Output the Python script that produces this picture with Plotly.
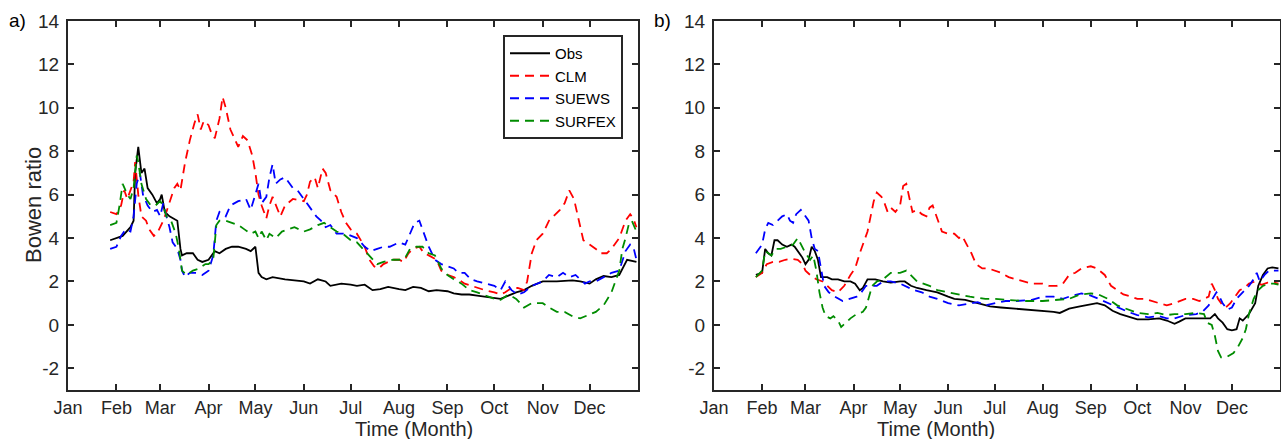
import plotly.graph_objects as go

YEAR = "2013"
month_labels = ["Jan", "Feb", "Mar", "Apr", "May", "Jun", "Jul", "Aug", "Sep", "Oct", "Nov", "Dec"]
month_ticks = [f"{YEAR}-{m:02d}-01" for m in range(1, 13)]
y_ticks = [-2, 0, 2, 4, 6, 8, 10, 12, 14]
y_tick_labels = ["-2", "0", "2", "4", "6", "8", "10", "12", "14"]

# ---------------- panel a ----------------
a_obs_d = ["01-28","02-01","02-05","02-10","02-12","02-13","02-15","02-17","02-19","02-21","02-24","02-27",
           "03-01","03-02","03-04","03-07","03-10","03-12","03-14","03-15","03-18","03-22","03-25","03-28",
           "04-01","04-05","04-08","04-12","04-16","04-20","04-25","04-28","05-01","05-03","05-05","05-08",
           "05-12","05-20","06-01","06-05","06-10","06-15","06-18","06-25","07-01","07-05","07-10","07-15",
           "07-20","07-25","08-01","08-05","08-10","08-15","08-20","08-25","09-01","09-05","09-10","09-15",
           "09-20","10-01","10-05","10-10","10-15","10-20","10-25","11-01","11-10","11-20","11-25","12-01",
           "12-05","12-10","12-15","12-20","12-25","12-31"]
a_obs_v = [3.9,4.0,4.1,4.5,4.8,7.0,8.2,7.0,7.2,6.3,6.0,5.6,
           5.8,6.0,5.2,5.0,4.9,4.8,3.5,3.2,3.3,3.3,3.0,2.9,
           3.0,3.4,3.3,3.5,3.6,3.6,3.5,3.4,3.6,2.4,2.2,2.1,
           2.2,2.1,2.0,1.9,2.1,2.0,1.8,1.9,1.85,1.8,1.85,1.6,
           1.65,1.75,1.65,1.6,1.75,1.7,1.55,1.6,1.55,1.45,1.4,1.4,
           1.35,1.25,1.2,1.35,1.5,1.6,1.8,2.0,2.0,2.05,2.0,1.9,
           2.1,2.25,2.2,2.3,3.0,2.9]

a_clm_d = ["01-28","02-01","02-04","02-06","02-08","02-10","02-12","02-13","02-15","02-17","02-20","02-22",
           "02-25","02-27","03-01","03-03","03-05","03-08","03-10","03-12","03-14","03-17","03-20","03-23",
           "03-25","03-27","03-29","04-01","04-03","04-05","04-08","04-10","04-12","04-15","04-18","04-20",
           "04-23","04-26","04-29","05-01","05-03","05-05","05-08","05-10","05-12","05-14","05-17","05-20",
           "05-25","06-01","06-03","06-05","06-08","06-10","06-13","06-15","06-18","06-22","06-25","06-28",
           "07-01","07-05","07-10","07-13","07-16","07-19","07-22","07-25","07-28","08-01","08-04","08-07",
           "08-10","08-14","08-17","08-20","08-25","08-28","09-01","09-05","09-08","09-12","09-16","09-20",
           "09-25","10-01","10-05","10-08","10-12","10-16","10-20","10-22","10-25","10-28","11-01","11-05",
           "11-08","11-12","11-15","11-18","11-21","11-24","11-27","12-01","12-05","12-08","12-12","12-15",
           "12-20","12-24","12-27","12-29","12-31"]
a_clm_v = [5.2,5.1,5.5,6.2,5.8,6.2,6.6,7.5,6.0,5.0,4.8,4.4,
           4.1,4.2,4.5,4.8,5.2,5.8,6.3,6.5,6.2,7.5,8.5,9.3,
           9.7,9.0,9.4,9.2,8.8,8.6,9.5,10.5,10.0,9.0,8.5,8.2,
           8.7,8.5,7.8,7.0,6.0,5.5,4.9,5.5,5.9,5.5,5.0,5.5,
           5.8,5.7,6.0,6.6,6.8,6.3,7.2,7.0,6.2,5.9,5.2,4.7,
           4.4,4.2,3.6,3.0,2.7,2.6,2.8,2.9,3.0,3.0,2.9,3.3,
           3.5,3.6,3.3,3.2,3.0,2.5,2.3,2.2,2.1,1.9,1.8,1.7,
           1.6,1.5,1.4,1.5,1.7,1.7,1.6,2.0,3.3,3.9,4.2,4.8,
           5.0,5.3,5.6,6.2,5.8,4.8,3.9,3.7,3.5,3.3,3.3,3.5,
           4.0,4.8,5.1,4.9,4.5]

a_suews_d = ["01-28","02-01","02-04","02-07","02-10","02-12","02-14","02-16","02-18","02-21","02-24","02-27",
             "03-01","03-03","03-05","03-07","03-09","03-12","03-14","03-15","03-17","03-20","03-24","03-28",
             "04-01","04-04","04-06","04-08","04-12","04-15","04-20","04-25","04-28","05-01","05-03","05-05",
             "05-08","05-10","05-12","05-14","05-17","05-20","05-25","05-28","06-01","06-03","06-06","06-09",
             "06-12","06-15","06-18","06-22","06-28","07-01","07-05","07-10","07-14","07-18","07-22","07-26",
             "08-01","08-05","08-08","08-11","08-14","08-17","08-20","08-24","08-28","09-01","09-05","09-08",
             "09-12","09-16","09-20","10-01","10-05","10-08","10-12","10-16","10-20","10-25","11-01","11-05",
             "11-10","11-14","11-18","11-22","11-28","12-01","12-05","12-10","12-15","12-20","12-24","12-27",
             "12-29","12-31"]
a_suews_v = [3.5,3.6,4.1,4.4,4.3,5.0,6.5,7.0,6.0,5.5,5.2,5.3,
             5.0,5.6,5.0,4.5,3.8,3.5,3.0,2.5,2.2,2.4,2.4,2.3,
             2.5,3.2,4.8,5.2,5.0,5.5,5.7,5.8,5.3,6.0,6.5,5.6,
             5.9,6.8,7.4,6.5,6.7,6.8,6.3,6.2,5.8,5.6,5.3,5.0,
             4.8,4.5,4.6,4.2,4.2,4.1,4.0,3.6,3.4,3.5,3.6,3.6,
             3.8,3.7,4.2,4.7,4.8,4.2,3.6,3.0,2.8,2.7,2.6,2.4,
             2.4,2.1,2.0,1.8,1.6,2.0,1.6,1.4,1.5,1.8,2.0,2.3,
             2.2,2.4,2.2,2.3,1.9,2.0,2.0,2.2,2.4,2.5,3.4,3.7,
             3.6,3.0]

a_surfex_d = ["01-28","02-01","02-03","02-05","02-08","02-10","02-12","02-14","02-15","02-17","02-20","02-23",
              "02-26","03-01","03-03","03-05","03-08","03-11","03-13","03-15","03-18","03-22","03-26","03-30",
              "04-01","04-04","04-06","04-08","04-12","04-16","04-20","04-24","04-28","05-01","05-03","05-05",
              "05-08","05-10","05-14","05-18","05-22","05-26","06-01","06-05","06-10","06-14","06-18","06-22",
              "06-26","07-01","07-05","07-10","07-15","07-18","07-22","07-28","08-01","08-05","08-08","08-12",
              "08-16","08-20","08-24","08-28","09-01","09-05","09-10","09-15","09-20","10-01","10-05","10-10",
              "10-15","10-20","10-25","11-01","11-05","11-10","11-15","11-20","11-25","12-01","12-05","12-10",
              "12-15","12-20","12-22","12-24","12-26","12-28","12-31"]
a_surfex_v = [4.6,4.7,5.5,6.5,6.0,5.8,6.3,7.8,7.5,6.5,5.8,5.5,
              5.5,5.7,5.5,5.0,4.8,4.2,3.5,2.5,2.3,2.5,2.6,2.8,
              2.8,3.0,4.6,4.8,4.8,4.7,4.6,4.4,4.2,4.3,4.0,4.3,
              3.9,4.2,4.0,4.3,4.4,4.5,4.3,4.4,4.6,4.7,4.5,4.3,
              4.2,3.9,3.8,3.4,3.0,2.8,2.9,3.0,3.0,3.1,3.5,3.6,
              3.6,3.3,3.2,2.6,2.3,2.1,1.9,1.6,1.5,1.2,1.15,1.4,
              1.2,0.8,1.0,1.0,0.8,0.6,0.6,0.4,0.3,0.5,0.6,0.9,
              1.5,2.5,3.5,4.0,4.6,4.8,4.3]

# ---------------- panel b ----------------
b_obs_d = ["01-28","02-01","02-03","02-05","02-07","02-09","02-11","02-14","02-17","02-20","02-22","02-25",
           "02-27","03-01","03-03","03-05","03-07","03-09","03-11","03-15","03-18","03-22","03-26","03-30",
           "04-02","04-05","04-07","04-10","04-15","04-20","04-25","05-01","05-04","05-08","05-12","05-18",
           "05-25","06-01","06-05","06-12","06-20","06-28","07-05","07-15","07-25","08-01","08-08","08-12",
           "08-18","08-25","09-01","09-05","09-10","09-15","09-20","09-25","10-01","10-08","10-15","10-20",
           "10-25","10-28","11-01","11-10","11-17","11-20","11-22","11-25","11-28","12-01","12-04","12-06",
           "12-08","12-12","12-16","12-18","12-21","12-24","12-27","12-31"]
b_obs_v = [2.3,2.4,3.5,3.3,3.2,3.9,3.9,3.7,3.6,3.7,3.6,3.3,
           3.1,2.8,3.0,3.6,3.4,3.0,2.2,2.2,2.1,2.1,2.0,2.0,
           1.9,1.6,1.7,2.1,2.1,2.0,1.95,2.0,2.0,1.8,1.7,1.6,
           1.5,1.3,1.2,1.15,1.0,0.85,0.8,0.75,0.7,0.65,0.6,0.55,
           0.75,0.85,0.95,1.0,0.9,0.65,0.5,0.4,0.25,0.25,0.3,0.2,
           0.05,0.15,0.3,0.3,0.3,0.5,0.3,0.1,-0.2,-0.25,-0.2,0.3,
           0.2,0.5,1.0,1.8,2.3,2.6,2.65,2.6]

b_clm_d = ["01-28","02-01","02-04","02-08","02-12","02-16","02-20","02-24","02-27","03-01","03-04","03-08",
           "03-12","03-15","03-18","03-22","03-26","03-30","04-02","04-05","04-08","04-10","04-12","04-14",
           "04-16","04-19","04-21","04-23","04-25","04-28","05-01","05-03","05-05","05-07","05-09","05-12",
           "05-15","05-18","05-20","05-22","05-25","05-28","06-01","06-05","06-08","06-10","06-13","06-16",
           "06-19","06-23","06-27","07-01","07-05","07-10","07-15","07-20","07-25","08-01","08-05","08-10",
           "08-14","08-18","08-22","08-26","09-01","09-05","09-10","09-14","09-18","09-22","09-27","10-01",
           "10-06","10-10","10-15","10-20","10-25","11-01","11-06","11-10","11-13","11-16","11-18","11-20",
           "11-22","11-25","11-27","11-30","12-03","12-06","12-09","12-12","12-16","12-20","12-24","12-28",
           "12-31"]
b_clm_v = [2.2,2.4,2.8,2.9,2.9,3.0,3.05,3.0,2.8,2.5,2.3,2.1,
           2.0,1.8,1.6,1.5,1.8,2.3,2.6,3.3,3.9,4.3,5.0,5.7,
           6.1,5.9,5.6,5.2,5.4,5.2,5.5,6.4,6.5,5.8,5.2,5.3,
           5.1,5.0,5.4,5.5,4.9,4.3,4.2,4.2,4.0,4.1,3.7,3.3,
           2.8,2.6,2.6,2.5,2.4,2.2,2.1,2.0,1.9,1.9,1.8,1.8,
           1.9,2.3,2.4,2.6,2.7,2.6,2.3,1.8,1.6,1.4,1.3,1.2,
           1.2,1.1,1.0,0.9,1.0,1.2,1.2,1.1,1.2,1.3,1.9,1.6,
           1.2,0.9,0.8,1.0,1.3,1.6,1.7,1.9,2.0,1.85,1.95,1.95,
           1.9]

b_suews_d = ["01-28","02-01","02-03","02-05","02-08","02-11","02-14","02-17","02-19","02-21","02-23","02-26",
             "03-01","03-03","03-05","03-07","03-09","03-11","03-13","03-16","03-20","03-25","03-30","04-03",
             "04-06","04-09","04-12","04-16","04-20","04-25","05-01","05-05","05-10","05-15","05-20","05-25",
             "06-01","06-08","06-15","06-20","06-25","07-01","07-08","07-15","07-25","08-01","08-08","08-14",
             "08-20","08-26","09-01","09-06","09-12","09-18","09-25","10-01","10-08","10-15","10-20","10-25",
             "11-01","11-08","11-12","11-16","11-19","11-21","11-23","11-25","11-28","12-01","12-04","12-08",
             "12-12","12-15","12-17","12-19","12-22","12-25","12-28","12-31"]
b_suews_v = [3.3,3.7,4.4,4.7,4.6,4.8,5.0,5.1,4.8,4.7,5.1,5.3,
             5.0,4.8,4.0,3.5,3.4,2.5,1.8,1.5,1.3,1.1,1.2,1.3,
             1.5,1.8,1.8,1.8,2.0,2.0,1.9,1.75,1.6,1.5,1.3,1.2,
             1.0,0.9,1.0,1.05,0.9,1.0,1.1,1.1,1.15,1.3,1.3,1.2,
             1.35,1.45,1.35,1.2,1.0,0.8,0.6,0.45,0.35,0.4,0.3,0.3,
             0.45,0.5,0.6,0.9,1.3,1.5,1.3,1.0,0.7,0.8,1.2,1.5,
             1.8,2.1,2.4,2.0,2.3,2.5,2.5,2.5]

b_surfex_d = ["01-28","02-01","02-03","02-05","02-07","02-10","02-13","02-17","02-21","02-24","02-27","03-01",
              "03-04","03-06","03-08","03-10","03-12","03-14","03-17","03-19","03-22","03-24","03-27","03-30",
              "04-03","04-07","04-09","04-11","04-13","04-16","04-20","04-25","05-01","05-05","05-08","05-12",
              "05-16","05-20","05-25","06-01","06-08","06-15","06-25","07-01","07-10","07-20","08-01","08-10",
              "08-18","08-25","09-01","09-06","09-12","09-18","09-25","10-01","10-08","10-14","10-20","10-25",
              "11-01","11-08","11-13","11-15","11-18","11-20","11-22","11-24","11-27","11-30","12-02","12-05",
              "12-08","12-10","12-12","12-15","12-18","12-21","12-25","12-28","12-31"]
b_surfex_v = [2.2,2.5,3.4,3.3,3.2,3.5,3.5,3.6,3.7,4.0,3.6,3.3,
              3.0,3.2,2.5,1.5,0.8,0.4,0.3,0.4,0.2,-0.1,0.1,0.3,
              0.5,0.6,0.8,1.3,1.8,2.0,2.1,2.4,2.4,2.5,2.3,2.0,
              1.9,1.8,1.6,1.5,1.4,1.3,1.2,1.2,1.15,1.1,1.1,1.15,
              1.2,1.4,1.45,1.4,1.2,0.9,0.7,0.55,0.5,0.55,0.45,0.5,
              0.5,0.55,0.5,0.1,0.0,-0.5,-1.2,-1.5,-1.5,-1.4,-1.3,-1.0,
              -0.6,-0.2,0.5,1.2,1.6,1.8,1.9,1.9,1.85]

GREEN = "rgb(0,140,0)"
DASH = "9px,6px"
series = [
    ("Obs", "black", "solid"),
    ("CLM", "#ff0000", DASH),
    ("SUEWS", "#0000ff", DASH),
    ("SURFEX", GREEN, DASH),
]
panel_a = [(a_obs_d, a_obs_v), (a_clm_d, a_clm_v), (a_suews_d, a_suews_v), (a_surfex_d, a_surfex_v)]
panel_b = [(b_obs_d, b_obs_v), (b_clm_d, b_clm_v), (b_suews_d, b_suews_v), (b_surfex_d, b_surfex_v)]

fig = go.Figure()
for (name, color, dash), (d, v) in zip(series, panel_a):
    fig.add_trace(go.Scatter(x=[f"{YEAR}-{s}" for s in d], y=v, mode="lines", name=name,
                             line=dict(color=color, width=1.8, dash=dash), xaxis="x", yaxis="y"))
for (name, color, dash), (d, v) in zip(series, panel_b):
    fig.add_trace(go.Scatter(x=[f"{YEAR}-{s}" for s in d], y=v, mode="lines", name=name, showlegend=False,
                             line=dict(color=color, width=1.8, dash=dash), xaxis="x2", yaxis="y2"))

W, H = 1281, 439
TOP, BOT = 21, 390
PH = BOT - TOP
FONT = "Liberation Sans, Arial, Helvetica, sans-serif"
TXT = "#262626"
xcommon = dict(type="date", range=[f"{YEAR}-01-01", "2014-01-01"], tickvals=month_ticks, ticktext=month_labels,
               ticks="inside", ticklen=6, tickwidth=2, tickcolor="#262626", mirror="ticks", showline=True,
               linecolor="#262626", linewidth=2, showgrid=False, zeroline=False, ticklabelstandoff=0,
               tickfont=dict(size=18, color=TXT, family=FONT))
ycommon = dict(range=[-3, 14], tickvals=y_ticks, ticktext=y_tick_labels, ticks="inside", ticklen=6, tickwidth=2,
               tickcolor="#262626", mirror="ticks", showline=True, linecolor="#262626", linewidth=2,
               showgrid=False, zeroline=False, ticklabelstandoff=3, tickfont=dict(size=19, color=TXT, family=FONT))


def py(page_y):
    return (BOT - page_y) / PH


fig.update_layout(
    width=W, height=H, paper_bgcolor="white", plot_bgcolor="white",
    margin=dict(l=0, r=0, t=TOP, b=H - BOT, autoexpand=False),
    font=dict(family=FONT, color=TXT, size=16),
    xaxis=dict(domain=[68 / W, 638 / W], anchor="y", **xcommon),
    yaxis=dict(domain=[0, 1], anchor="x", **ycommon),
    xaxis2=dict(domain=[714 / W, 1280 / W], anchor="y2", **xcommon),
    yaxis2=dict(domain=[0, 1], anchor="x2", **ycommon),
    showlegend=True,
    legend=dict(x=623 / W, y=py(35), xanchor="right", yanchor="top", bgcolor="white",
                bordercolor="#262626", borderwidth=2, font=dict(size=15, color="black", family=FONT),
                itemwidth=40, tracegroupgap=0),
    annotations=[
        dict(text="Bowen ratio", x=33 / W, y=py(205), xref="paper", yref="paper", textangle=-90,
             xanchor="center", yanchor="middle", showarrow=False, font=dict(size=22, color=TXT)),
        dict(text="Time (Month)", x=353 / W, y=py(429), xref="paper", yref="paper", yanchor="middle",
             showarrow=False, font=dict(size=20, color=TXT)),
        dict(text="Time (Month)", x=997 / W, y=py(429), xref="paper", yref="paper", yanchor="middle",
             showarrow=False, font=dict(size=20, color=TXT)),
        dict(text="a)", x=7 / W, y=py(20), xref="paper", yref="paper", xanchor="left", yanchor="middle",
             showarrow=False, font=dict(size=19, color="black")),
        dict(text="b)", x=652 / W, y=py(20), xref="paper", yref="paper", xanchor="left", yanchor="middle",
             showarrow=False, font=dict(size=19, color="black")),
    ],
)
fig.write_html("out.html", config={"displayModeBar": False},
               post_script="document.body.style.margin='0px';document.body.style.overflow='hidden';")
